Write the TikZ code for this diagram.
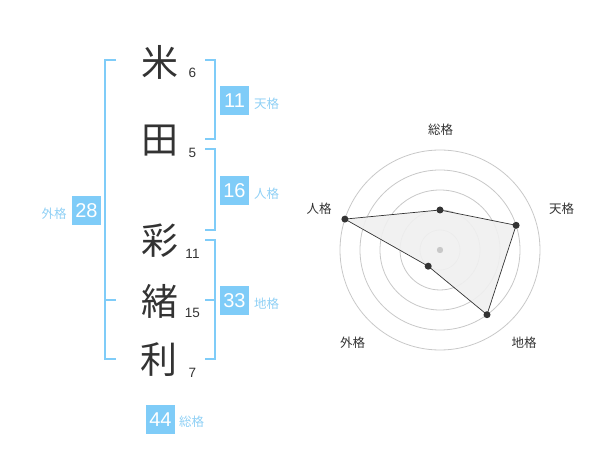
\documentclass[tikz,border=0pt]{standalone}
\usepackage{fontspec}
\setmainfont{Liberation Sans}
\newfontfamily\jp{Noto Sans CJK JP}
\definecolor{skyb}{HTML}{7FCCF8}
\definecolor{skyt}{HTML}{8FD0F5}
\definecolor{ink}{HTML}{333333}
\definecolor{ring}{HTML}{C8C8C8}
\definecolor{area}{HTML}{F0F0F0}
\begin{document}
\begin{tikzpicture}[x=1pt,y=-1pt,
  kanji/.style={inner sep=0pt,text=ink,font=\jp\fontsize{37}{37}\selectfont},
  strokes/.style={inner sep=0pt,text=ink,font=\fontsize{13.5}{14}\selectfont},
  bracket/.style={draw=skyb,line width=2pt},
  valbox/.style={fill=skyb,text=white,minimum width=29pt,minimum height=29pt,inner sep=0pt,font=\fontsize{20}{20}\selectfont},
  kaku/.style={inner sep=0pt,text=skyt,font=\jp\fontsize{12.5}{13}\selectfont,anchor=west},
  axis/.style={inner sep=0pt,text=ink,font=\jp\fontsize{12.5}{13}\selectfont},
  ringline/.style={draw=ring,line width=0.8pt},
  dot/.style={circle,fill=ink,inner sep=0pt,minimum size=7pt}
]
\useasboundingbox (0,0) rectangle (600,470);
% characters
\node[kanji] (c1) at (160,62) {米};
\node[kanji] (c2) at (160,140.5) {田};
\node[kanji] (c3) at (160,241) {彩};
\node[kanji] (c4) at (160,301.5) {緒};
\node[kanji] (c5) at (159,360) {利};
\node[strokes] (n1) at (192.5,73) {6};
\node[strokes] (n2) at (192.5,153) {5};
\node[strokes] (n3) at (192.5,253.5) {11};
\node[strokes] (n4) at (192.5,312.5) {15};
\node[strokes] (n5) at (192.5,372.5) {7};
% brackets
\draw[bracket] (116,60) -- (105,60) -- (105,359.5) -- (116,359.5);
\draw[bracket] (105,300) -- (116,300);
\draw[bracket] (205,60) -- (214.5,60) -- (214.5,139.5) -- (205,139.5);
\draw[bracket] (205,149.5) -- (214.5,149.5) -- (214.5,230) -- (205,230);
\draw[bracket] (205,240) -- (214.5,240) -- (214.5,359.5) -- (205,359.5);
\draw[bracket] (205,300) -- (214.5,300);
% value boxes
\node[valbox] (ten) at (234.5,100.5) {11};
\node[kaku] (tenl) at (254,104) {天格};
\node[valbox] (jin) at (234.5,190.5) {16};
\node[kaku] (jinl) at (254,194) {人格};
\node[valbox] (gai) at (86.5,210.5) {28};
\node[kaku] (gail) at (41.5,214) {外格};
\node[valbox] (chi) at (234.5,300.5) {33};
\node[kaku] (chil) at (254,303.5) {地格};
\node[valbox] (sou) at (160.5,419.5) {44};
\node[kaku] (soul) at (179,422) {総格};
% radar
\coordinate (o) at (440,250);
\foreach \r in {20,40,60,80,100} \draw[ringline] (o) circle[radius=\r];
\coordinate (q1) at (440,210);
\coordinate (q2) at (516.1,225.3);
\coordinate (q3) at (487,314.7);
\coordinate (q4) at (428.2,266.2);
\coordinate (q5) at (344.9,219.1);
\fill[area,opacity=0.9] (q1) -- (q2) -- (q3) -- (q4) -- (q5) -- cycle;
\draw[ink,line width=0.7pt] (q1) -- (q2) -- (q3) -- (q4) -- (q5) -- cycle;
\fill[ring] (o) circle[radius=3.2];
\foreach \q in {q1,q2,q3,q4,q5} \node[dot] at (\q) {};
\node[axis] (a1) at (440.5,130) {総格};
\node[axis] (a2) at (561.5,208.5) {天格};
\node[axis] (a3) at (524,342.5) {地格};
\node[axis] (a4) at (352.5,342.5) {外格};
\node[axis] (a5) at (319,208.5) {人格};
\end{tikzpicture}
\end{document}
